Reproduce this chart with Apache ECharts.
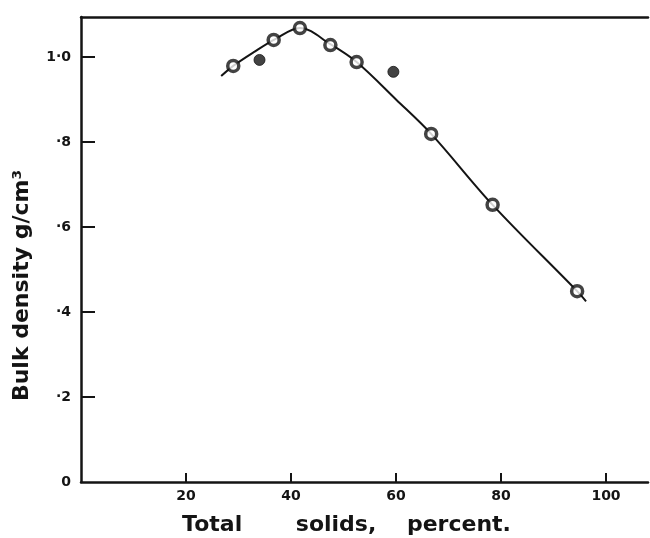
<!DOCTYPE html>
<html>
<head>
<meta charset="utf-8">
<script src="https://cdn.jsdelivr.net/npm/echarts@6/dist/echarts.min.js"></script>
<style>html,body{margin:0;padding:0;background:#fff}#c{width:650px;height:538px}</style>
</head>
<body>
<div id="c"></div>
<script>
// Measured points: open circles
const openPoints = [[29.0,0.979],[36.7,1.040],[41.7,1.068],[47.5,1.028],[52.5,0.988],[66.7,0.819],[78.4,0.652],[94.5,0.449]];
// Measured points: filled circles
const filledPoints = [[34.0,0.993],[59.5,0.965]];
// Hand-drawn fitted curve
const curvePoints = [[26.7,0.955],[29,0.979],[33,1.012],[37,1.042],[41.7,1.068],[47.5,1.030],[52.5,0.988],[60,0.900],[66.7,0.819],[78.4,0.652],[94.5,0.449],[96.2,0.425]];
// Tick values and labels
const xTicks = [20,40,60,80,100];
const xTickLabels = ['20','40','60','80','100'];
const yTicks = [0,0.2,0.4,0.6,0.8,1.0];
const yTickLabels = ['0','·2','·4','·6','·8','1·0'];

const ink = '#141414';
const font = 'DejaVu Sans';
const chart = echarts.init(document.getElementById('c'));
chart.setOption({
  backgroundColor: '#fff',
  animation: false,
  grid: {left: 81, right: 2, top: 17, bottom: 56, outerBoundsMode: 'none', containLabel: false},
  xAxis: [{
    type: 'value', min: 0, max: 108,
    axisLine: {lineStyle: {color: ink, width: 2.5}},
    axisTick: {inside: true, length: 9, lineStyle: {color: ink, width: 2}, customValues: xTicks},
    axisLabel: {customValues: xTicks, color: ink, fontFamily: font, fontWeight: 'bold', fontSize: 14, margin: 7,
      formatter: v => { const i = xTicks.indexOf(v); return i >= 0 ? xTickLabels[i] : ''; }},
    splitLine: {show: false},
    name: 'Total       solids,    percent.', nameLocation: 'middle', nameGap: 32,
    nameTextStyle: {color: ink, fontFamily: font, fontWeight: 'bold', fontSize: 22, padding: [0,0,0,-36]}
  }, {
    type: 'value', position: 'top', min: 0, max: 108,
    axisLine: {show: true, lineStyle: {color: ink, width: 2.5}},
    axisTick: {show: false}, axisLabel: {show: false}, splitLine: {show: false}
  }],
  yAxis: {
    type: 'value', min: 0, max: 1.094,
    axisLine: {lineStyle: {color: ink, width: 2.5}},
    axisTick: {inside: true, length: 14, lineStyle: {color: ink, width: 2}, customValues: yTicks.slice(1)},
    axisLabel: {customValues: yTicks, color: ink, fontFamily: font, fontWeight: 'bold', fontSize: 14, margin: 10,
      formatter: v => { const i = yTicks.findIndex(t => Math.abs(t - v) < 1e-6); return i >= 0 ? yTickLabels[i] : ''; }},
    splitLine: {show: false},
    name: 'Bulk density g/cm³', nameLocation: 'middle', nameGap: 48,
    nameTextStyle: {color: ink, fontFamily: font, fontWeight: 'bold', fontSize: 22, padding: [0,0,0,-72]}
  },
  series: [{
    type: 'line', data: curvePoints, smooth: 0.35, showSymbol: false,
    lineStyle: {color: ink, width: 2}, z: 2
  }, {
    type: 'scatter', data: openPoints, symbol: 'circle', symbolSize: 11,
    itemStyle: {color: '#fff', borderColor: ink, borderWidth: 3.5}, z: 3
  }, {
    type: 'scatter', data: filledPoints, symbol: 'circle', symbolSize: 11,
    itemStyle: {color: ink, borderColor: ink, borderWidth: 1}, z: 3
  }]
});
</script>
</body>
</html>
